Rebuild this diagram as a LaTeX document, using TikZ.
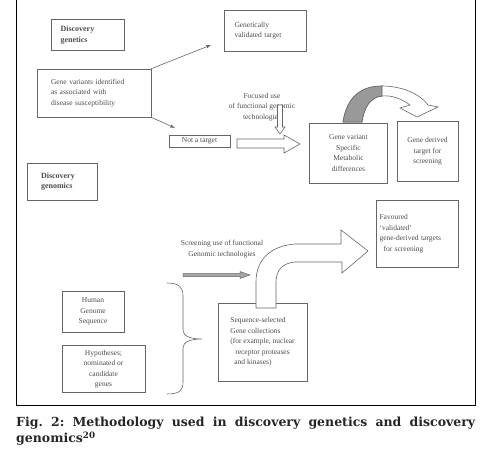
\documentclass[tikz,border=0pt]{standalone}
\usepackage{fontspec}
\setmainfont{Liberation Serif}
\newfontfamily\capfont{DejaVu Serif}
\definecolor{linegray}{gray}{0.4}
\definecolor{textgray}{gray}{0.3}
\tikzset{
  box/.style={draw=linegray, line width=0.6pt, inner sep=0pt, text=textgray,
    font=\fontsize{7.5}{10.5}\selectfont},
  title/.style={box, font=\fontsize{8}{10.5}\selectfont\bfseries, align=left},
  blockarrow/.style={draw=linegray, line width=0.6pt, fill=white},
}
\begin{document}
\begin{tikzpicture}[x=1pt,y=-1pt]
\useasboundingbox (0,0) rectangle (481,452);
\draw[line width=1pt] (16,0) -- (16,405) -- (475,405) -- (475,0);

% discovery genetics
\node[title, minimum width=73pt, minimum height=31pt, text width=54pt] (dgen) at (87.5,35) {Discovery\\genetics};
\node[box, minimum width=82pt, minimum height=41pt, text width=62pt, align=left] (gvt) at (265.5,30.5) {Genetically\\validated target\\[8pt]};
\node[box, minimum width=114pt, minimum height=48pt, text width=86pt, align=left] (gva) at (94,93) {Gene variants identified\\as associated with\\disease susceptibility};
\node[box, minimum width=61pt, minimum height=12pt] (nat) at (199.5,141) {Not a target};
\node[box, minimum width=78pt, minimum height=60pt, align=center] (gvs) at (348.5,153) {Gene variant\\Specific\\Metabolic\\differences};
\node[box, minimum width=61pt, minimum height=60pt, align=center] (gdt) at (427.5,151.5) {Gene derived\\target for\\screening};
\node[text=textgray, font=\fontsize{7.5}{10.5}\selectfont, align=center] (focused) at (262,107) {Focused use\\of functional genomic\\technologies};

\coordinate (gvtend) at (211,45);
\coordinate (natend) at (175,128);
\draw[linegray, line width=0.6pt, -latex] (gva.north east) -- (gvtend);
\draw[linegray, line width=0.6pt, -latex] (gva.south east) -- (natend);

\draw[blockarrow] (237,139) -- (284,139) -- (284,135) -- (300,144) -- (284,153) -- (284,148) -- (237,148) -- cycle;
\draw[blockarrow] (277.5,105) -- (277.5,127) -- (275,127) -- (280,134) -- (285,127) -- (282.5,127) -- (282.5,105) -- cycle;

\draw[blockarrow] (343,122) .. controls (347,96) and (362,86) .. (382,86)
  .. controls (402,86) and (420,94) .. (428,105) -- (438,107) -- (417,117) -- (400,108) -- (410,105)
  .. controls (402,99) and (392,95) .. (382,96)
  .. controls (370,97) and (364,108) .. (362,122) -- cycle;
\filldraw[fill=black!40, draw=linegray, line width=0.6pt] (343,122) .. controls (347,96) and (362,86) .. (382,86)
  -- (382,96) .. controls (370,97) and (364,108) .. (362,122) -- cycle;

% discovery genomics
\node[title, minimum width=70pt, minimum height=37pt, text width=42pt] (dgm) at (62,181.5) {Discovery\\genomics};
\node[box, minimum width=82pt, minimum height=67pt, text width=76pt, align=left] (fav) at (417.5,233.5) {Favoured\\`validated'\\gene-derived targets\\\hspace*{4pt}for screening};
\node[box, minimum width=62pt, minimum height=41pt, align=center] (hgs) at (93,311.5) {Human\\Genome\\Sequence};
\node[box, minimum width=83pt, minimum height=47pt, align=center] (hyp) at (103.5,369) {Hypotheses;\\nominated or\\candidate\\genes};
\node[box, minimum width=89pt, minimum height=78pt, align=left] (ssg) at (262.5,342) {Sequence-selected\\Gene collections\\(for example, nuclear\\\hspace*{5pt}receptor proteases\\\hspace*{4pt}and kinases)};
\node[text=textgray, font=\fontsize{7.5}{10.5}\selectfont, align=center] (screening) at (222,249) {Screening use of functional\\Genomic technologies};

\filldraw[fill=black!35, draw=linegray, line width=0.5pt] (183,273.5) -- (240,273.5) -- (240,271.5) -- (250,275) -- (240,278.5) -- (240,276.5) -- (183,276.5) -- cycle;

\draw[blockarrow] (256,308) -- (256,282) .. controls (256,260) and (270,246) .. (295,244) -- (341,244) -- (341,230)
  -- (368,251) -- (342,273) -- (342,262) -- (295,262) .. controls (283,263) and (276,270) .. (276,282) -- (276,308) -- cycle;

\draw[linegray, line width=0.6pt] (167,283) .. controls (180,283) and (183,288) .. (183,296) -- (183,330)
  .. controls (183,336) and (190,339) .. (202,339) .. controls (190,339) and (183,342) .. (183,348) -- (183,382)
  .. controls (183,390) and (180,394) .. (167,394);

\node[anchor=north west, inner sep=0pt, text width=459pt, align=left, text=black!85,
  font=\fontsize{12.5}{16}\capfont\bfseries] (caption) at (16,417)
  {\hbox to 459pt{Fig.\hfill 2:\hfill Methodology\hfill used\hfill in\hfill discovery\hfill genetics\hfill and\hfill discovery}\\genomics\textsuperscript{20}};
\end{tikzpicture}
\end{document}
